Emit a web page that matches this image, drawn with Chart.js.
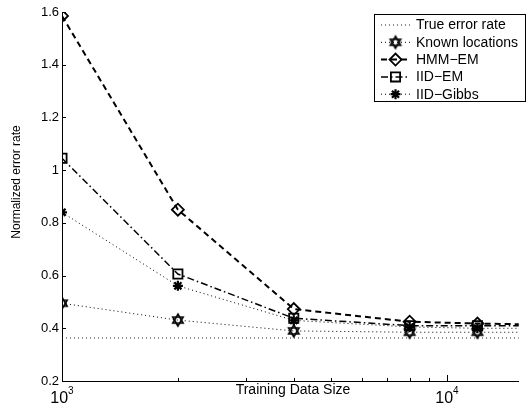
<!DOCTYPE html>
<html>
<head>
<meta charset="utf-8">
<script src="https://cdn.jsdelivr.net/npm/chart.js@4/dist/chart.umd.min.js"></script>
<style>
  body { margin: 0; background: #fff; }
  canvas { display: block; }
</style>
</head>
<body>
<canvas id="cs" width="527" height="408"></canvas>
<script>
// training data sizes (last one sits just past the right edge of the plot)
var sizes = [1000, 2000, 4000, 8000, 12000, 16000];
var trueRate = [0.363, 0.363, 0.363, 0.363, 0.363, 0.363];
var knownLoc = [0.495, 0.431, 0.39, 0.385, 0.385, 0.385];
var hmmEm = [1.585, 0.85, 0.473, 0.425, 0.418, 0.415];
var iidEm = [1.045, 0.606, 0.438, 0.41, 0.41, 0.41];
var iidGibbs = [0.84, 0.561, 0.43, 0.405, 0.40, 0.40];
var yTicks = [0.2, 0.4, 0.6, 0.8, 1.0, 1.2, 1.4, 1.6];
var xTicks = [1000, 2000, 3000, 4000, 5000, 6000, 7000, 8000, 9000, 10000];
var xLabels = { 1000: '3', 10000: '4' }; // exponents of 10

var FONT = "'Liberation Sans', Arial, Helvetica, sans-serif";

function pts(ys) {
  return sizes.map(function (x, i) { return { x: x, y: ys[i] }; });
}

// hexagram marker (two stroked triangles)
function hexagram(r) {
  var c = document.createElement('canvas');
  var s = Math.ceil(r * 2 + 4);
  c.width = s; c.height = s;
  var g = c.getContext('2d');
  var m = s / 2;
  g.strokeStyle = '#000';
  g.lineWidth = 1.6;
  [-Math.PI / 2, Math.PI / 2].forEach(function (a0) {
    g.beginPath();
    for (var i = 0; i < 3; i++) {
      var a = a0 + i * 2 * Math.PI / 3;
      var px = m + r * Math.cos(a), py = m + r * Math.sin(a);
      if (i) g.lineTo(px, py); else g.moveTo(px, py);
    }
    g.closePath();
    g.stroke();
  });
  return c;
}
var star6 = hexagram(6);

function series(label, ys, dash, width, style, radius, color) {
  return {
    label: label,
    data: pts(ys),
    borderColor: color || '#000',
    borderWidth: width,
    borderDash: dash,
    pointStyle: style,
    pointRadius: style ? radius : 0,
    pointBorderColor: '#000',
    pointBackgroundColor: 'rgba(0,0,0,0)',
    pointBorderWidth: style === 'star' ? 2.2 : 1.8,
    tension: 0
  };
}

var datasets = [
  series('True error rate', trueRate, [1, 3], 1, false, 0, '#222'),
  series('Known locations', knownLoc, [1, 3], 1, star6, 6),
  series('HMM\u2212EM', hmmEm, [6, 4], 2, 'rectRot', 6),
  series('IID\u2212EM', iidEm, [7, 3, 1.5, 3], 1.5, 'rect', 6.5),
  series('IID\u2212Gibbs', iidGibbs, [1, 3], 1, 'star', 5)
];

// inward ticks, 10^n labels, axis titles and the boxed legend
var matlabLook = {
  id: 'matlabLook',
  afterDatasetsDraw: function (chart) {
    var ctx = chart.ctx, a = chart.chartArea;
    var xs = chart.scales.x, ys = chart.scales.y;
    ctx.save();
    ctx.strokeStyle = '#000';
    ctx.lineWidth = 1;
    ctx.setLineDash([]);
    xTicks.forEach(function (v) {
      var px = Math.round(xs.getPixelForValue(v)) + 0.5;
      var len = xLabels[v] ? 6 : 3;
      ctx.beginPath(); ctx.moveTo(px, a.bottom); ctx.lineTo(px, a.bottom - len); ctx.stroke();
    });
    yTicks.forEach(function (v) {
      var py = Math.round(ys.getPixelForValue(v)) + 0.5;
      ctx.beginPath(); ctx.moveTo(a.left, py); ctx.lineTo(a.left + 4, py); ctx.stroke();
    });

    // x tick labels as 10 with a raised exponent
    ctx.fillStyle = '#000';
    ctx.textBaseline = 'alphabetic';
    ctx.textAlign = 'left';
    xTicks.forEach(function (v) {
      if (!xLabels[v]) return;
      ctx.font = '16px ' + FONT;
      var wb = ctx.measureText('10').width;
      ctx.font = '10px ' + FONT;
      var we = ctx.measureText(xLabels[v]).width;
      var px = xs.getPixelForValue(v);
      var x0 = px - (wb + we) / 2;
      ctx.font = '16px ' + FONT;
      ctx.fillText('10', x0, 403);
      ctx.font = '10px ' + FONT;
      ctx.fillText(xLabels[v], x0 + wb, 394);
    });

    // axis titles
    ctx.textAlign = 'center';
    ctx.textBaseline = 'middle';
    ctx.font = '14px ' + FONT;
    ctx.fillText('Training Data Size', 293, 390);
    ctx.font = '12px ' + FONT;
    ctx.save();
    ctx.translate(17, 182);
    ctx.rotate(-Math.PI / 2);
    ctx.fillText('Normalized error rate', 0, 0);
    ctx.restore();

    // legend
    var bx = 374.5, by = 14.5, bw = 151, bh = 87;
    ctx.fillStyle = '#fff';
    ctx.fillRect(bx, by, bw, bh);
    ctx.strokeStyle = '#000';
    ctx.strokeRect(bx, by, bw, bh);
    chart.data.datasets.forEach(function (ds, i) {
      var yy = 25 + i * 17.3;
      ctx.save();
      ctx.strokeStyle = ds.borderColor;
      ctx.lineWidth = ds.borderWidth;
      ctx.setLineDash(ds.borderDash);
      ctx.beginPath(); ctx.moveTo(381, yy); ctx.lineTo(410, yy); ctx.stroke();
      ctx.restore();
      if (ds.pointStyle) {
        ctx.save();
        ctx.strokeStyle = '#000';
        ctx.fillStyle = 'rgba(0,0,0,0)';
        ctx.lineWidth = ds.pointBorderWidth;
        Chart.helpers.drawPoint(ctx, { pointStyle: ds.pointStyle, radius: ds.pointRadius, rotation: 0, borderWidth: ds.pointBorderWidth }, 395.5, yy);
        ctx.restore();
      }
      ctx.fillStyle = '#000';
      ctx.font = '14px ' + FONT;
      ctx.textAlign = 'left';
      ctx.textBaseline = 'middle';
      ctx.fillText(ds.label, 416, yy + 0.5);
    });
    ctx.restore();
  }
};

new Chart(document.getElementById('cs'), {
  type: 'line',
  data: { datasets: datasets },
  plugins: [matlabLook],
  options: {
    responsive: false,
    animation: false,
    layout: { padding: { top: 12, right: 0, left: 0, bottom: 0 } },
    plugins: { legend: { display: false }, tooltip: { enabled: false } },
    scales: {
      x: {
        type: 'logarithmic',
        min: 1000,
        max: 15360,
        afterFit: function (s) { s.height = 27; },
        afterBuildTicks: function (s) { s.ticks = xTicks.map(function (v) { return { value: v }; }); },
        grid: { drawOnChartArea: false, drawTicks: false },
        border: { display: true, color: '#000', width: 1 },
        ticks: { display: false }
      },
      y: {
        min: 0.2,
        max: 1.6,
        afterFit: function (s) { s.width = 62; },
        afterBuildTicks: function (s) { s.ticks = yTicks.map(function (v) { return { value: v }; }); },
        grid: { drawOnChartArea: false, drawTicks: false },
        border: { display: true, color: '#000', width: 1 },
        ticks: {
          padding: 3,
          color: '#000',
          font: { family: FONT, size: 13 },
          callback: function (v) {
            var r = Math.round(v * 10) / 10;
            return r === 1 ? '1' : r.toFixed(1);
          }
        }
      }
    }
  }
});
</script>
</body>
</html>
